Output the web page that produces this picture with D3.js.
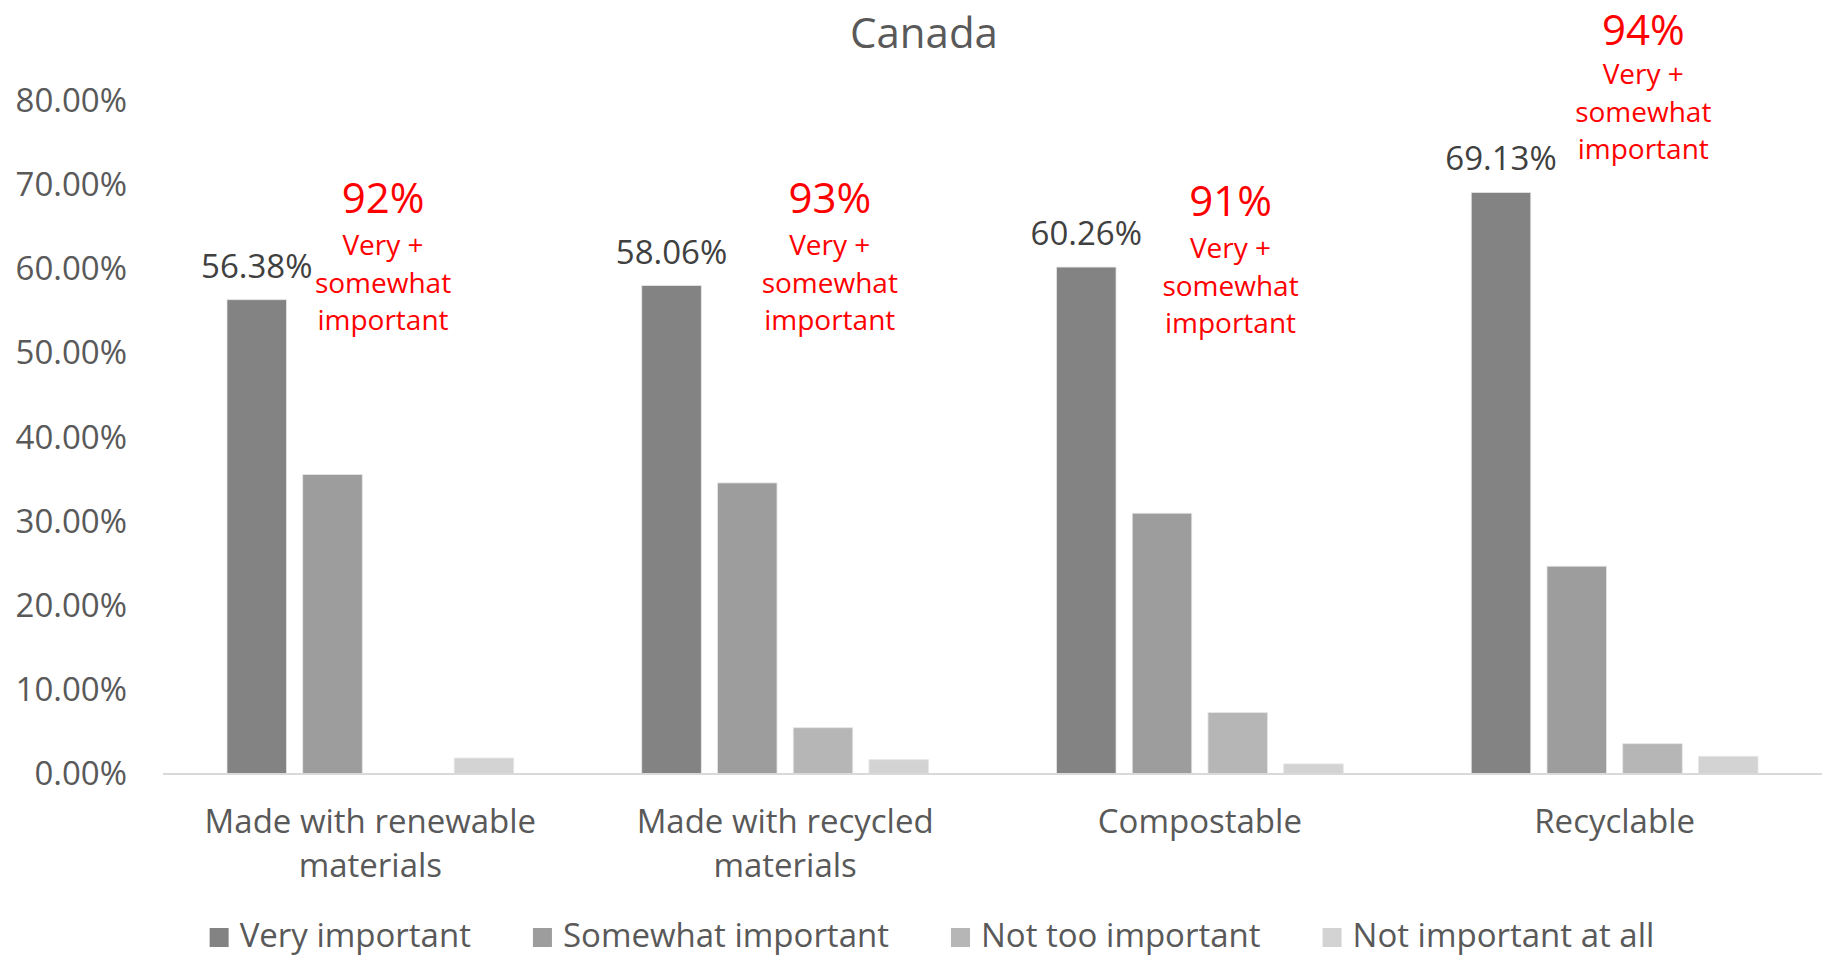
<!DOCTYPE html>
<html>
<head>
<meta charset="utf-8">
<script src="https://cdn.jsdelivr.net/npm/d3@7"></script>
<style>
  html, body { margin: 0; padding: 0; background: #fff; }
  svg { display: block; font-family: "Open Sans", sans-serif; }
</style>
</head>
<body>
<svg id="chart" width="1825" height="957"></svg>
<script>
// Importance of packaging attributes, Canada
const categories = [
  "Made with renewable materials",
  "Made with recycled materials",
  "Compostable",
  "Recyclable"
];
const seriesNames = ["Very important", "Somewhat important", "Not too important", "Not important at all"];

const veryImportant     = [56.38, 58.06, 60.26, 69.13];
const somewhatImportant = [35.6, 34.6, 31.0, 24.7];
const notTooImportant   = [null, 5.5, 7.3, 3.6];
const notImportantAtAll = [1.9, 1.7, 1.2, 2.1];

const yTicks = [0, 10, 20, 30, 40, 50, 60, 70, 80];

const seriesValues = [veryImportant, somewhatImportant, notTooImportant, notImportantAtAll];
const seriesColors = ["#838383", "#9d9d9d", "#b6b6b6", "#d3d3d3"];

// Callout placement (offset from the start of each category band, and baselines)
const calloutLayout = [
  { dx: 220, y: 213, sub: 255 },
  { dx: 252, y: 213, sub: 255 },
  { dx: 238, y: 216, sub: 258 },
  { dx: 236, y: 45,  sub: 84 }
];

const svg = d3.select("#chart");
const plot = { left: 163, right: 1822, top: 101, bottom: 774 };
const FS = 33;

const x0 = d3.scaleBand().domain(categories).range([plot.left, plot.right]);
const x1 = d3.scaleBand().domain(seriesNames)
  .range([64, x0.bandwidth() - 64])
  .paddingInner(0.214);
const y = d3.scaleLinear().domain([0, 80]).range([plot.bottom, plot.top]);

// Title
svg.append("text")
  .attr("x", 924).attr("y", 48)
  .attr("text-anchor", "middle")
  .attr("font-size", 42)
  .attr("fill", "#595959")
  .text("Canada");

// Y axis labels
const yAxis = d3.axisLeft(y)
  .tickValues(yTicks)
  .tickSize(0)
  .tickPadding(0)
  .tickFormat(d => d3.format(".2%")(d / 100));
const yg = svg.append("g").attr("transform", "translate(127,0)").call(yAxis);
yg.select(".domain").remove();
yg.selectAll("text")
  .attr("font-family", "Open Sans, sans-serif")
  .attr("font-size", FS)
  .attr("fill", "#595959")
  .attr("x", 0);

// Bars
const rows = [];
categories.forEach((c, i) => {
  seriesNames.forEach((s, j) => {
    const v = seriesValues[j][i];
    if (v != null) rows.push({ cat: c, series: s, value: v, j });
  });
});

svg.append("g").selectAll("rect")
  .data(rows)
  .join("rect")
  .attr("x", d => x0(d.cat) + x1(d.series))
  .attr("y", d => y(d.value))
  .attr("width", x1.bandwidth())
  .attr("height", d => y(0) - y(d.value))
  .attr("fill", d => seriesColors[d.j])
  .attr("stroke", "#e6e6e6")
  .attr("stroke-width", 0.8);

// Baseline
svg.append("line")
  .attr("x1", plot.left).attr("x2", plot.right)
  .attr("y1", y(0)).attr("y2", y(0))
  .attr("stroke", "#d9d9d9")
  .attr("stroke-width", 2);

// Value labels on the "Very important" bars
svg.append("g").selectAll("text")
  .data(categories)
  .join("text")
  .attr("x", c => x0(c) + x1(seriesNames[0]) + x1.bandwidth() / 2)
  .attr("y", (c, i) => y(veryImportant[i]) - 22)
  .attr("text-anchor", "middle")
  .attr("font-size", FS)
  .attr("fill", "#404040")
  .text((c, i) => veryImportant[i].toFixed(2) + "%");

// Category labels, wrapped to the band width
const catG = svg.append("g");
categories.forEach(c => {
  const cx = x0(c) + x0.bandwidth() / 2;
  const t = catG.append("text")
    .attr("x", cx)
    .attr("y", 833)
    .attr("text-anchor", "middle")
    .attr("font-size", FS)
    .attr("fill", "#595959");
  const words = c.split(" ");
  let line = [];
  let tspan = t.append("tspan").attr("x", cx).attr("dy", 0);
  words.forEach(w => {
    line.push(w);
    tspan.text(line.join(" "));
    if (tspan.node().getComputedTextLength() > 360 && line.length > 1) {
      line.pop();
      tspan.text(line.join(" "));
      line = [w];
      tspan = t.append("tspan")
        .attr("x", cx)
        .attr("dy", 44)
        .text(w);
    }
  });
});

// Red callouts: very + somewhat important combined
const callG = svg.append("g").attr("fill", "#ff0000").attr("text-anchor", "middle");
categories.forEach((c, i) => {
  const total = Math.round(veryImportant[i] + somewhatImportant[i]);
  const cx = x0(c) + calloutLayout[i].dx;
  callG.append("text")
    .attr("x", cx).attr("y", calloutLayout[i].y)
    .attr("font-size", 42)
    .text(total + "%");
  ["Very +", "somewhat", "important"].forEach((s, k) => {
    callG.append("text")
      .attr("x", cx).attr("y", calloutLayout[i].sub + k * 37.5)
      .attr("font-size", 28)
      .text(s);
  });
});

// Legend
const legend = svg.append("g");
let cursor = 0;
seriesNames.forEach((s, j) => {
  const g = legend.append("g");
  g.append("rect")
    .attr("x", 0).attr("y", -19)
    .attr("width", 19).attr("height", 19)
    .attr("fill", seriesColors[j]);
  const t = g.append("text")
    .attr("x", 30).attr("y", 0)
    .attr("font-size", FS)
    .attr("fill", "#595959")
    .text(s);
  const w = 30 + t.node().getComputedTextLength();
  g.attr("transform", `translate(${cursor},947)`);
  cursor += w + 62;
});
const legendWidth = cursor - 62;
legend.attr("transform", `translate(${932 - legendWidth / 2},0)`);
</script>
</body>
</html>
